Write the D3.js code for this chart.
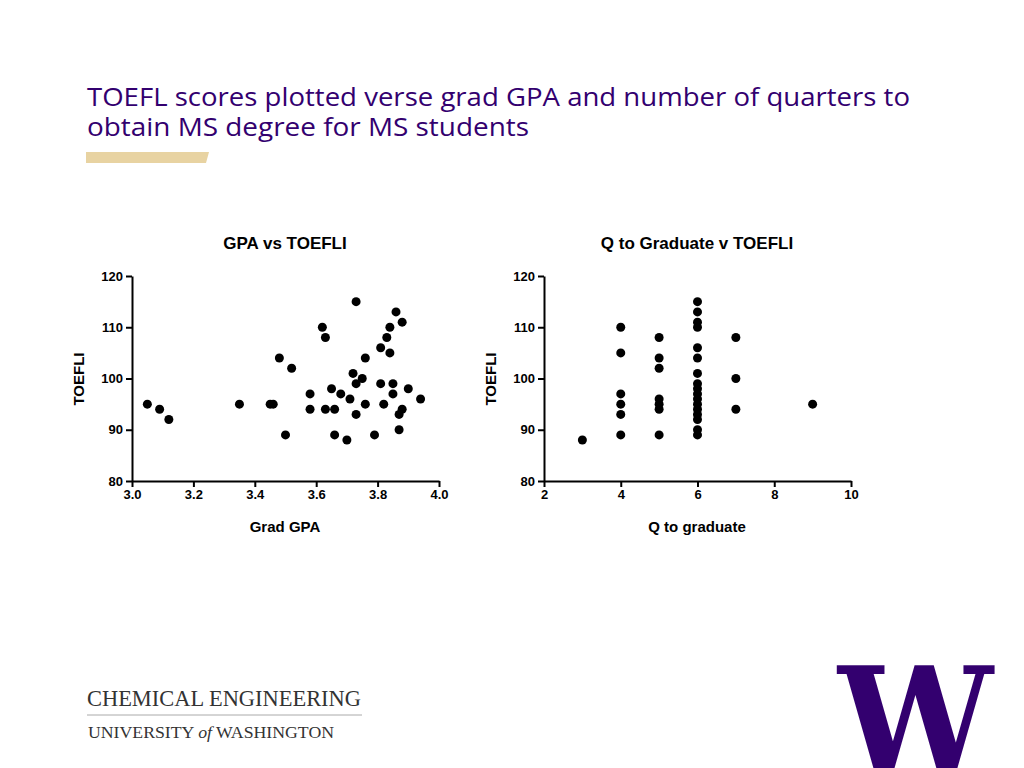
<!DOCTYPE html>
<html>
<head>
<meta charset="utf-8">
<script src="https://cdn.jsdelivr.net/npm/d3@7"></script>
<style>
body{margin:0;background:#fff}
.axis path,.axis line{stroke:#000;stroke-width:2}
.axis text{font-family:"Liberation Sans",Arial,sans-serif;font-size:13px;font-weight:bold;fill:#000}
</style>
</head>
<body>
<script>
var gpa   = [3.05,3.09,3.12,3.35,3.45,3.46,3.48,3.50,3.52,3.58,3.58,3.62,3.63,3.63,3.65,3.66,3.66,3.68,3.70,3.71,3.72,3.73,3.73,3.73,3.75,3.76,3.76,3.79,3.81,3.81,3.82,3.83,3.84,3.84,3.85,3.85,3.86,3.87,3.88,3.87,3.88,3.90,3.94];
var toefl1= [95,94,92,95,95,95,104,89,102,97,94,110,108,94,98,94,89,97,88,96,101,115,99,93,100,104,95,89,106,99,95,108,110,105,99,97,113,93,94,90,111,98,96];
var quarters=[3,4,4,4,4,4,4,5,5,5,5,5,5,5,6,6,6,6,6,6,6,6,6,6,6,6,6,6,6,6,6,7,7,7,9];
var toefl2 = [88,110,105,97,95,93,89,108,104,102,96,95,94,89,115,113,111,110,106,104,101,99,98,97,96,95,94,93,92,90,89,108,100,94,95];
var yTicks=[80,90,100,110,120];
var gpaTicks=[3.0,3.2,3.4,3.6,3.8,4.0];
var qTicks=[2,4,6,8,10];

var svg=d3.select("body").append("svg").attr("width",1024).attr("height",768);
var purple="#33006f";
svg.append("text").attr("x",87).attr("y",106).attr("fill",purple)
  .attr("textLength",823).attr("lengthAdjust","spacingAndGlyphs")
  .style("font-family","'Open Sans',sans-serif").style("font-size","26px")
  .text("TOEFL scores plotted verse grad GPA and number of quarters to");
svg.append("text").attr("x",87).attr("y",136).attr("fill",purple)
  .attr("textLength",442).attr("lengthAdjust","spacingAndGlyphs")
  .style("font-family","'Open Sans',sans-serif").style("font-size","26px")
  .text("obtain MS degree for MS students");
svg.append("polygon").attr("points","86,152 209,152 206,163 86,163").attr("fill","#e8d3a2");

function plot(x0,title,xlab,xs,ys,dom,ticks,fmt){
  var x=d3.scaleLinear().domain(dom).range([x0,x0+307]);
  var y=d3.scaleLinear().domain([80,120]).range([481,276]);
  svg.append("g").attr("class","axis").attr("transform","translate(0,481)")
    .call(d3.axisBottom(x).tickValues(ticks).tickFormat(fmt).tickSize(6).tickSizeOuter(0));
  svg.append("g").attr("class","axis").attr("transform","translate("+x0+",0)")
    .call(d3.axisLeft(y).tickValues(yTicks).tickSize(6).tickSizeOuter(0));
  svg.selectAll(null).data(xs).enter().append("circle")
    .attr("cx",function(d){return x(d);}).attr("cy",function(d,i){return y(ys[i]);})
    .attr("r",4.5).attr("fill","#000");
  var f="'Liberation Sans',Arial,sans-serif";
  svg.append("text").attr("x",x0+153).attr("y",249).attr("text-anchor","middle")
    .style("font-family",f).style("font-weight","bold").style("font-size","17px").text(title);
  svg.append("text").attr("x",x0+153).attr("y",532).attr("text-anchor","middle")
    .style("font-family",f).style("font-weight","bold").style("font-size","15px").text(xlab);
  svg.append("text").attr("transform","translate("+(x0-48)+",379) rotate(-90)").attr("text-anchor","middle")
    .style("font-family",f).style("font-weight","bold").style("font-size","15px").text("TOEFLI");
}
plot(132,"GPA vs TOEFLI","Grad GPA",gpa,toefl1,[3,4],gpaTicks,d3.format(".1f"));
plot(544,"Q to Graduate v TOEFLI","Q to graduate",quarters,toefl2,[2,10],qTicks,d3.format("d"));

svg.append("text").attr("x",87).attr("y",706).attr("fill","#333")
  .attr("textLength",274).attr("lengthAdjust","spacingAndGlyphs")
  .style("font-family","'Liberation Serif',serif").style("font-size","23px")
  .text("CHEMICAL ENGINEERING");
svg.append("line").attr("x1",87).attr("x2",362).attr("y1",715).attr("y2",715).attr("stroke","#aaa");
var t=svg.append("text").attr("x",88).attr("y",738).attr("fill","#333")
  .attr("textLength",246).attr("lengthAdjust","spacingAndGlyphs")
  .style("font-family","'Liberation Serif',serif").style("font-size","16px");
t.append("tspan").text("UNIVERSITY ");
t.append("tspan").style("font-style","italic").text("of");
t.append("tspan").text(" WASHINGTON");
svg.append("text").attr("x",838).attr("y",775).attr("fill",purple)
  .attr("textLength",155).attr("lengthAdjust","spacingAndGlyphs")
  .style("font-family","'DejaVu Serif',serif").style("font-weight","bold").style("font-size","150px")
  .text("W");
</script>
</body>
</html>
